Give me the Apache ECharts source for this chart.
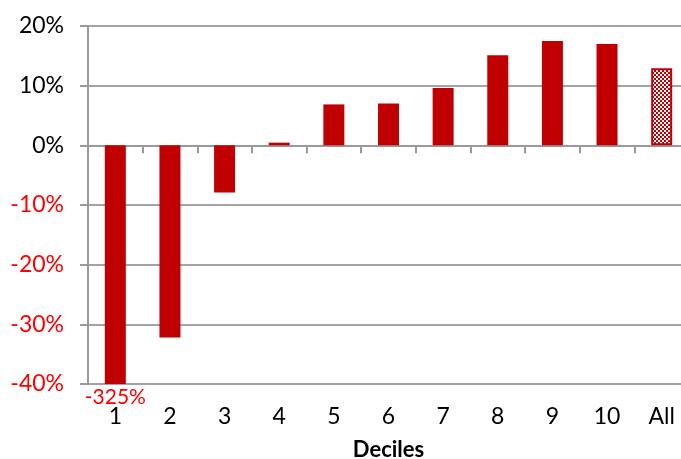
<!DOCTYPE html>
<html>
<head>
<meta charset="utf-8">
<script src="https://cdn.jsdelivr.net/npm/echarts@6/dist/echarts.min.js"></script>
<style>html,body{margin:0;padding:0;background:#fff;}#c{width:681px;height:459px;}</style>
</head>
<body>
<div id="c"></div>
<script>
const categories = ['1','2','3','4','5','6','7','8','9','10','All'];
const values = [-325, -32.2, -7.9, 0.45, 6.86, 7.03, 9.6, 15.1, 17.5, 17.0, 12.9];
const yTicks = { min: -40, max: 20, interval: 10 };
const patternIndex = 10;

const pc = document.createElement('canvas');
pc.width = 4; pc.height = 4;
const g = pc.getContext('2d');
g.fillStyle = '#ffffff'; g.fillRect(0,0,4,4);
g.fillStyle = '#c00000'; g.fillRect(0,0,2,2); g.fillRect(2,2,2,2);

const FONT = 'Lato';
const data = values.map((v, i) => {
  const clipped = v < yTicks.min;
  const item = { value: clipped ? yTicks.min : v };
  if (i === patternIndex) {
    item.itemStyle = { color: { image: pc, repeat: 'repeat' }, borderColor: '#c00000', borderWidth: 2 };
  }
  if (clipped) {
    item.label = { show: true, position: 'bottom', distance: 3, formatter: v + '%', color: '#ff0000', fontSize: 21, fontFamily: FONT };
  }
  return item;
});

const chart = echarts.init(document.getElementById('c'));
chart.setOption({
  animation: false,
  grid: { left: 88, right: -8, top: 26, bottom: 75, outerBoundsMode: 'none', containLabel: false },
  xAxis: [
    {
      type: 'category', data: categories, position: 'bottom',
      axisLine: { onZero: true, lineStyle: { color: '#9a9a9a', width: 2 } },
      axisTick: { show: true, length: 8, lineStyle: { color: '#9a9a9a', width: 2 } },
      axisLabel: { show: false }
    },
    {
      type: 'category', data: categories, position: 'bottom',
      axisLine: { show: false, onZero: false },
      axisTick: { show: false },
      axisLabel: { show: true, margin: 21, color: '#000', fontSize: 23, fontFamily: FONT },
      name: 'Deciles', nameLocation: 'middle', nameGap: 55,
      nameTextStyle: { color: '#000', fontSize: 22, fontWeight: 'bold', fontFamily: FONT }
    }
  ],
  yAxis: {
    type: 'value', min: yTicks.min, max: yTicks.max, interval: yTicks.interval,
    axisLine: { show: true, lineStyle: { color: '#9a9a9a', width: 2 } },
    axisTick: { show: true, length: 8, lineStyle: { color: '#9a9a9a', width: 2 } },
    splitLine: { show: true, lineStyle: { color: '#a3a3a3', width: 2 } },
    axisLabel: {
      margin: 24, fontSize: 23, fontFamily: FONT,
      formatter: v => v + '%',
      color: v => (Number(v) < 0 ? '#ff0000' : '#000000')
    }
  },
  series: [{
    type: 'bar', xAxisIndex: 0, data: data, barWidth: 21,
    itemStyle: { color: '#c00000' }
  }]
});
</script>
</body>
</html>
